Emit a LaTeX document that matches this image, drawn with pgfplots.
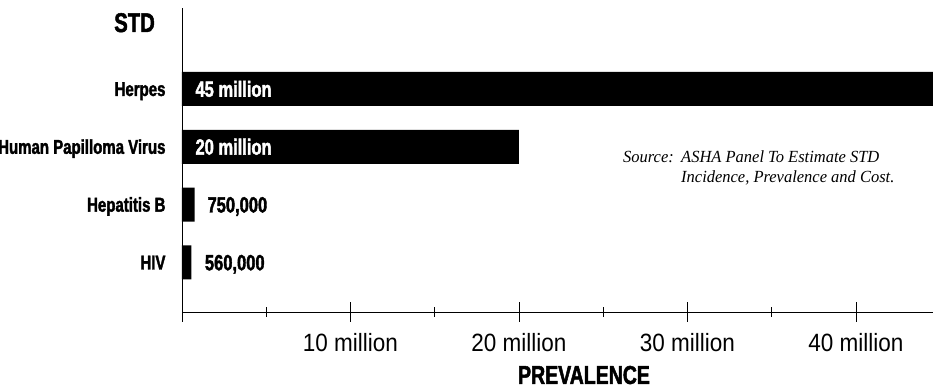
\documentclass[border=0pt]{standalone}
\usepackage{fontspec}
\setmainfont{Liberation Sans}
\newfontfamily\cnb{Liberation Sans Bold}[FakeStretch=0.75,FakeBold=1.8]
\newfontfamily\cnr{Liberation Sans}[FakeStretch=0.9]
\newfontfamily\src{Liberation Serif Italic}[FakeStretch=0.97]
\usepackage{pgfplots}
\pgfplotsset{compat=1.18}
\begin{document}
\begin{tikzpicture}
\begin{axis}[
 name=ax, scale only axis, width=751pt, height=304pt,
 xmin=0, xmax=44.57, ymin=0.144, ymax=5.40,
 axis x line=bottom, axis y line=left,
 axis line style={-, line width=0.9pt, black},
 xbar, bar width=34pt,
 xtick={0,10,20,30,40},
 xticklabels={,10 million,20 million,30 million,40 million},
 minor xtick={5,15,25,35},
 tick align=center, major tick length=20pt, minor tick length=10pt,
 every tick/.style={black, line width=0.9pt},
 ytick={1,2,3,4},
 yticklabels={HIV,Hepatitis B,Human Papilloma Virus,Herpes},
 y tick style={draw=none},
 xticklabel style={font=\cnr\fontsize{25}{30}\selectfont, anchor=base, yshift=-30pt},
 yticklabel style={font=\cnb\fontsize{20}{24}\selectfont, anchor=base east, xshift=-3pt, yshift=-7pt},
]
\addplot[fill=black, draw=none] coordinates {(0.56,1) (0.75,2) (20,3) (45,4)};
\node[anchor=base west, text=white, font=\cnb\fontsize{22}{26}\selectfont, xshift=10pt, yshift=-7.8pt] at (axis cs:0,4) {45 million};
\node[anchor=base west, text=white, font=\cnb\fontsize{22}{26}\selectfont, xshift=10pt, yshift=-7.8pt] at (axis cs:0,3) {20 million};
\node[anchor=base west, text=black, font=\cnb\fontsize{22}{26}\selectfont, xshift=9.4pt, yshift=-7.8pt] at (axis cs:0.75,2) {750,000};
\node[anchor=base west, text=black, font=\cnb\fontsize{22}{26}\selectfont, xshift=10pt, yshift=-7.8pt] at (axis cs:0.56,1) {560,000};
\end{axis}
\node[anchor=base east, inner sep=0pt, font=\cnb\fontsize{27}{30}\selectfont] at ([xshift=-27pt,yshift=280pt]ax.south west) {STD};
\node[anchor=base, inner sep=0pt, font=\cnb\fontsize{26}{30}\selectfont] at ([xshift=402pt,yshift=-72pt]ax.south west) {PREVALENCE};
\node[anchor=base west, inner sep=0pt, font=\src\fontsize{17}{20}\selectfont] at ([xshift=441pt,yshift=149pt]ax.south west)
 {\begin{tabular}[t]{@{}l@{}l@{}}\makebox[58pt][l]{Source:} & ASHA Panel To Estimate STD\\ & Incidence, Prevalence and Cost.\end{tabular}};
\pgfresetboundingbox
\path ([xshift=-182pt,yshift=-76pt]ax.south west) rectangle ([yshift=8pt]ax.north east);
\end{tikzpicture}
\end{document}
